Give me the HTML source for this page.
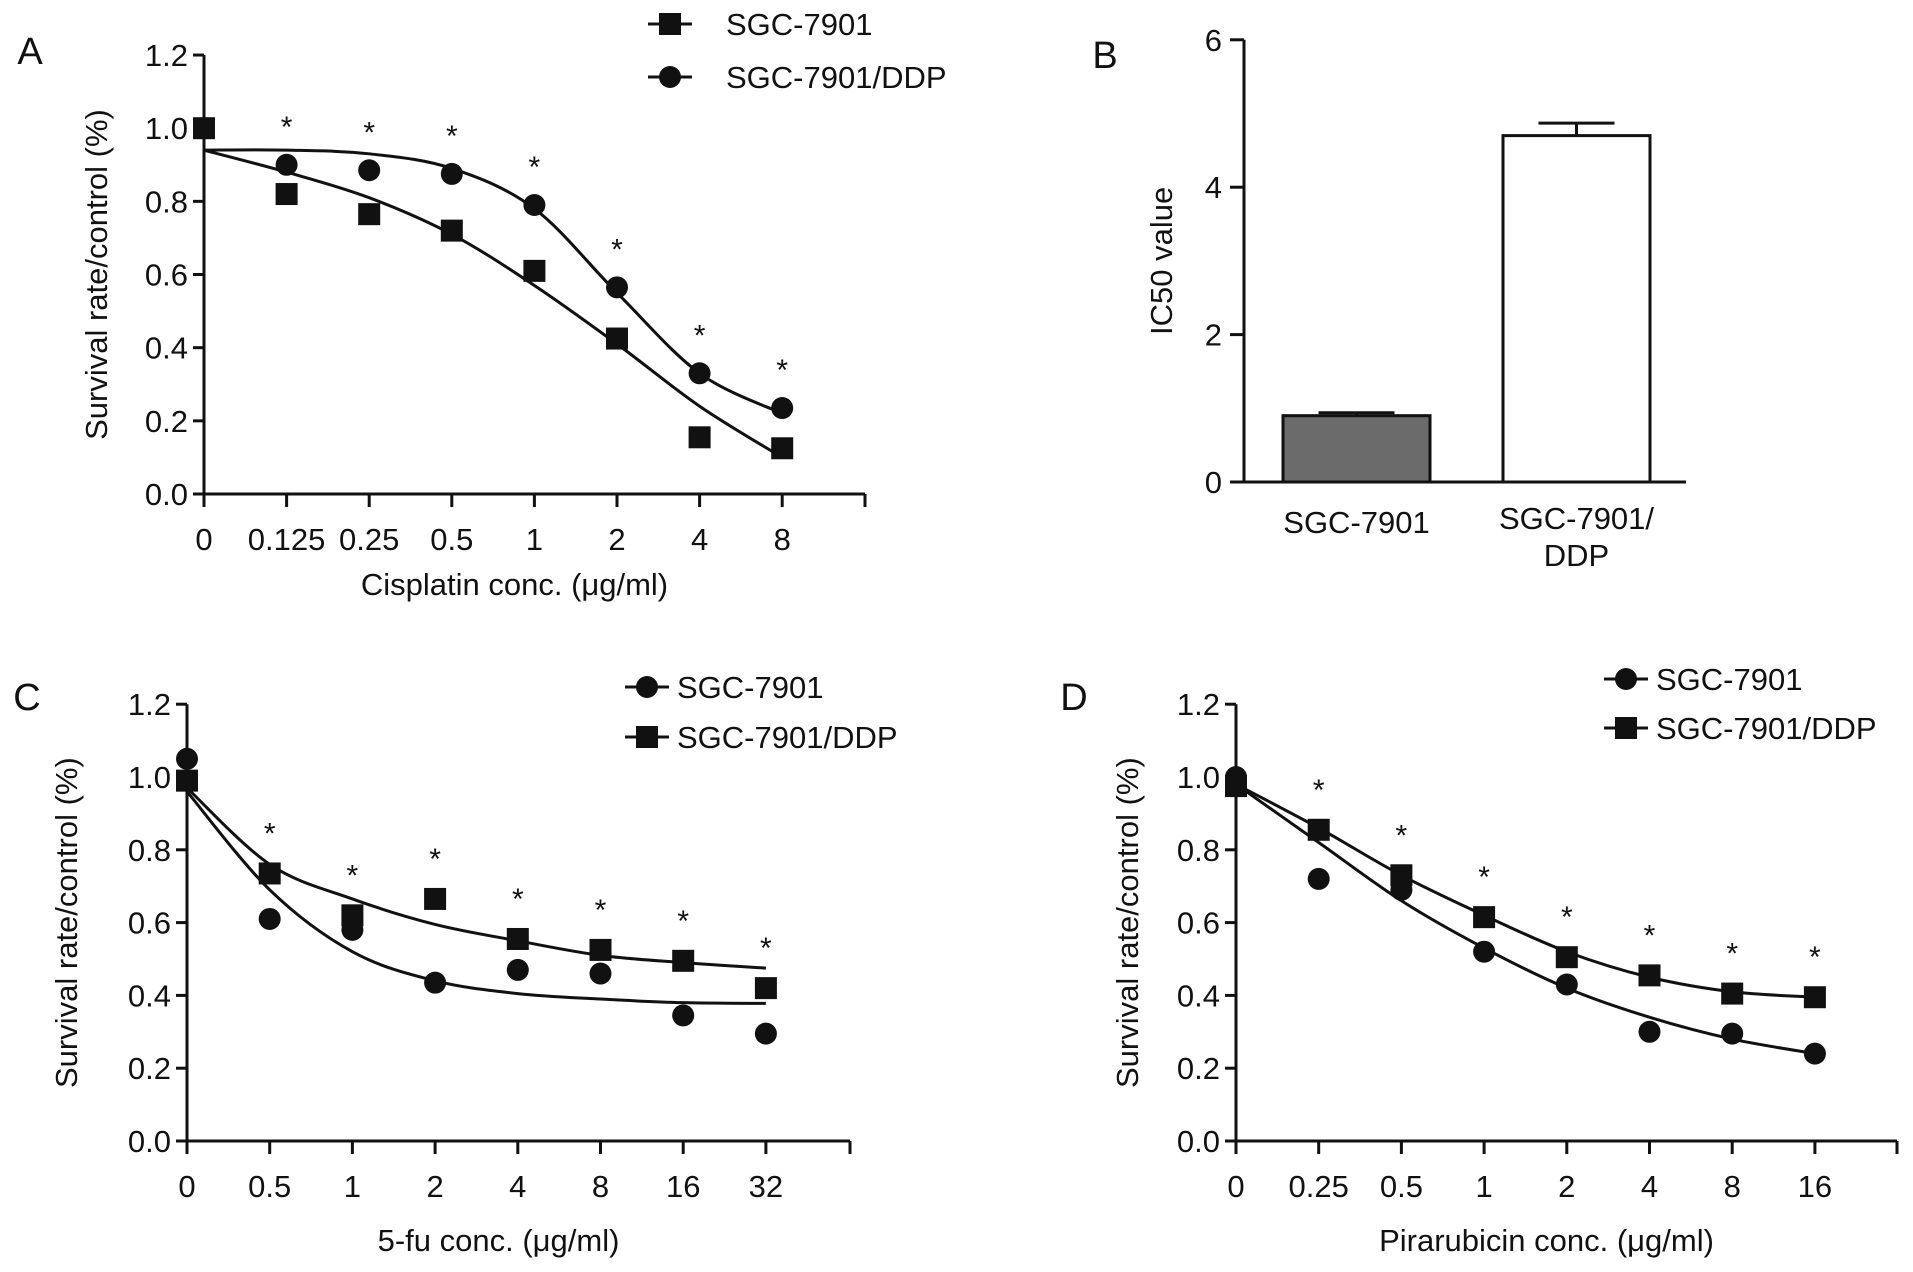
<!DOCTYPE html>
<html><head><meta charset="utf-8"><style>
html,body{margin:0;padding:0;background:#fff;}
svg{display:block;font-family:"Liberation Sans",sans-serif;}
</style></head><body>
<svg id="fig" width="1913" height="1272" viewBox="0 0 1913 1272" xmlns="http://www.w3.org/2000/svg"></svg>
<script>
// ---- Panel A data ----
const aCategories = ["0","0.125","0.25","0.5","1","2","4","8"];
const aSgc = [1.0,0.82,0.765,0.72,0.61,0.425,0.155,0.125];
const aDdp = [1.0,0.9,0.885,0.875,0.79,0.565,0.33,0.235];
const aSgcFit = [0.94,0.88,0.81,0.71,0.57,0.41,0.24,0.10];
const aDdpFit = [0.94,0.94,0.93,0.89,0.78,0.55,0.33,0.22];
const survTicks = [0,0.2,0.4,0.6,0.8,1.0,1.2];
// ---- Panel B data ----
const bCategories = ["SGC-7901","SGC-7901/DDP"];
const bValues = [0.9,4.7];
const bErrors = [0.04,0.17];
const bTicks = [0,2,4,6];
// ---- Panel C data ----
const cCategories = ["0","0.5","1","2","4","8","16","32"];
const cSgc = [1.05,0.61,0.58,0.435,0.47,0.46,0.345,0.295];
const cDdp = [0.99,0.735,0.62,0.665,0.555,0.525,0.495,0.42];
const cSgcFit = [0.96,0.69,0.52,0.44,0.405,0.39,0.38,0.378];
const cDdpFit = [0.97,0.76,0.665,0.595,0.55,0.51,0.49,0.475];
// ---- Panel D data ----
const dCategories = ["0","0.25","0.5","1","2","4","8","16"];
const dSgc = [1.0,0.72,0.69,0.52,0.43,0.30,0.295,0.24];
const dDdp = [0.975,0.855,0.73,0.615,0.505,0.455,0.405,0.395];
const dSgcFit = [0.98,0.82,0.66,0.53,0.42,0.34,0.28,0.24];
const dDdpFit = [0.98,0.86,0.73,0.62,0.52,0.45,0.41,0.395];

const NS="http://www.w3.org/2000/svg";
const svg=document.getElementById('fig');
const FS=31;
function mk(tag,attrs,parent){const e=document.createElementNS(NS,tag);for(const k in attrs)e.setAttribute(k,attrs[k]);(parent||svg).appendChild(e);return e;}
function txt(s,x,y,size,anchor,parent){const t=mk('text',{x:x,y:y,'font-size':size,'text-anchor':anchor||'middle',fill:'#111'},parent);t.textContent=s;return t;}
function smooth(pts){let d=`M${pts[0][0]},${pts[0][1]}`;for(let i=0;i<pts.length-1;i++){const p0=pts[Math.max(0,i-1)],p1=pts[i],p2=pts[i+1],p3=pts[Math.min(pts.length-1,i+2)];
 d+=` C${p1[0]+(p2[0]-p0[0])/6},${p1[1]+(p2[1]-p0[1])/6} ${p2[0]-(p3[0]-p1[0])/6},${p2[1]-(p3[1]-p1[1])/6} ${p2[0]},${p2[1]}`;}return d;}
function marker(shape,x,y,g){if(shape==='sq')return mk('rect',{x:x-11,y:y-11,width:22,height:22,fill:'#111'},g);return mk('circle',{cx:x,cy:y,r:11,fill:'#111'},g);}

function linePanel(cfg){
 const g=mk('g',{});
 
 
 const X=i=>cfg.x0+cfg.step*i;
 const Y=v=>cfg.y0-v*cfg.per;
 mk('line',{x1:cfg.x0,y1:Y(1.2),x2:cfg.x0,y2:cfg.y0,stroke:'#111','stroke-width':3},g);
 mk('line',{x1:cfg.x0,y1:cfg.y0,x2:cfg.xEnd,y2:cfg.y0,stroke:'#111','stroke-width':3},g);
 survTicks.forEach(v=>{mk('line',{x1:cfg.x0-11,y1:Y(v),x2:cfg.x0,y2:Y(v),stroke:'#111','stroke-width':3},g);
   const t=txt(v.toFixed(1),cfg.x0-16,Y(v)+11,FS,'end',g);});
 cfg.cats.forEach((c,i)=>{mk('line',{x1:X(i),y1:cfg.y0,x2:X(i),y2:cfg.y0+13,stroke:'#111','stroke-width':3},g);
   const t=txt(c,X(i),cfg.y0+56,FS,'middle',g);});
 mk('line',{x1:cfg.xEnd,y1:cfg.y0,x2:cfg.xEnd,y2:cfg.y0+13,stroke:'#111','stroke-width':3},g);
 const xt=txt(cfg.xTitle,(cfg.x0+cfg.xEnd)/2-20,cfg.xTitleY,FS,'middle',g);
 
 const yt=txt('Survival rate/control (%)',0,0,FS,'middle',g);
 yt.setAttribute('transform',`translate(${cfg.yTitleX},${(Y(1.2)+cfg.y0)/2}) rotate(-90)`);
 
 const pl=txt(cfg.letter,cfg.letterX,cfg.letterY,38,'middle',g);
 
 cfg.series.forEach(s=>{
   const p=mk('path',{d:smooth(s.fit.map((v,i)=>[X(i),Y(v)])),fill:'none',stroke:'#111','stroke-width':3},g);
   
   s.vals.forEach((v,i)=>{const m=marker(s.shape,X(i),Y(v),g);
     });
   const ly=s.legY;
   mk('line',{x1:cfg.legX,y1:ly,x2:cfg.legX+44,y2:ly,stroke:'#111','stroke-width':3},g);
   const lm=marker(s.shape,cfg.legX+22,ly,g);
   
   const lt=txt(s.label,cfg.legX+cfg.legGap,ly+11,FS,'start',g);
   
 });
 const top=cfg.series[cfg.starSeries].vals;
 top.forEach((v,i)=>{if(i===0)return;const s=txt('*',X(i),Y(v)-cfg.starOff,30,'middle',g);
   });
}

linePanel({name:'panel-a',x0:204,step:82.6,y0:494,per:365.8,xEnd:865,cats:aCategories,xTitle:'Cisplatin conc. (\u03bcg/ml)',xTitleY:595,yTitleX:107,letter:'A',letterX:30,letterY:64,legX:648,legGap:78,starSeries:1,starOff:28,
 series:[{id:'sgc-7901',label:'SGC-7901',shape:'sq',vals:aSgc,fit:aSgcFit,legY:24},{id:'sgc-7901-ddp',label:'SGC-7901/DDP',shape:'ci',vals:aDdp,fit:aDdpFit,legY:77}]});
linePanel({name:'panel-c',x0:187,step:82.7,y0:1141,per:364,xEnd:850,cats:cCategories,xTitle:'5-fu conc. (\u03bcg/ml)',xTitleY:1251,yTitleX:77,letter:'C',letterX:27,letterY:710,legX:625,legGap:52,starSeries:1,starOff:30,
 series:[{id:'sgc-7901',label:'SGC-7901',shape:'ci',vals:cSgc,fit:cSgcFit,legY:687},{id:'sgc-7901-ddp',label:'SGC-7901/DDP',shape:'sq',vals:cDdp,fit:cDdpFit,legY:737}]});
linePanel({name:'panel-d',x0:1236,step:82.7,y0:1141,per:364,xEnd:1897,cats:dCategories,xTitle:'Pirarubicin conc. (\u03bcg/ml)',xTitleY:1251,yTitleX:1138,letter:'D',letterX:1074,letterY:710,legX:1604,legGap:52,starSeries:1,starOff:30,
 series:[{id:'sgc-7901',label:'SGC-7901',shape:'ci',vals:dSgc,fit:dSgcFit,legY:679},{id:'sgc-7901-ddp',label:'SGC-7901/DDP',shape:'sq',vals:dDdp,fit:dDdpFit,legY:728}]});

(function(){
 const g=mk('g',{});
 
 
 const x0=1244,y0=482,per=73.7,xEnd=1686;
 const Y=v=>y0-v*per;
 const bx=[1283,1503],bw=147,fills=['#6b6b6b','#ffffff'];
 bValues.forEach((v,i)=>{
   const r=mk('rect',{x:bx[i],y:Y(v),width:bw,height:y0-Y(v),fill:fills[i],stroke:'#111','stroke-width':3},g);
   
   const cx=bx[i]+bw/2;
   mk('line',{x1:cx,y1:Y(v),x2:cx,y2:Y(v+bErrors[i]),stroke:'#111','stroke-width':3},g);
   const e=mk('line',{x1:cx-38,y1:Y(v+bErrors[i]),x2:cx+38,y2:Y(v+bErrors[i]),stroke:'#111','stroke-width':3},g);
   
 });
 mk('line',{x1:x0,y1:Y(6),x2:x0,y2:y0,stroke:'#111','stroke-width':3},g);
 mk('line',{x1:x0-14,y1:y0,x2:xEnd,y2:y0,stroke:'#111','stroke-width':3},g);
 bTicks.forEach(v=>{mk('line',{x1:x0-14,y1:Y(v),x2:x0,y2:Y(v),stroke:'#111','stroke-width':3},g);
   const t=txt(String(v),x0-22,Y(v)+11,FS,'end',g);});
 let t=txt(bCategories[0],bx[0]+bw/2,533,FS,'middle',g);
 t=txt('SGC-7901/',bx[1]+bw/2,529,FS,'middle',g);
 t=txt('DDP',bx[1]+bw/2,566,FS,'middle',g);
 const yt=txt('IC50 value',0,0,FS,'middle',g);
 yt.setAttribute('transform',`translate(1172,${(Y(6)+y0)/2}) rotate(-90)`);
 
 const pl=txt('B',1105,68,38,'middle',g);
})();
</script>
</body></html>
